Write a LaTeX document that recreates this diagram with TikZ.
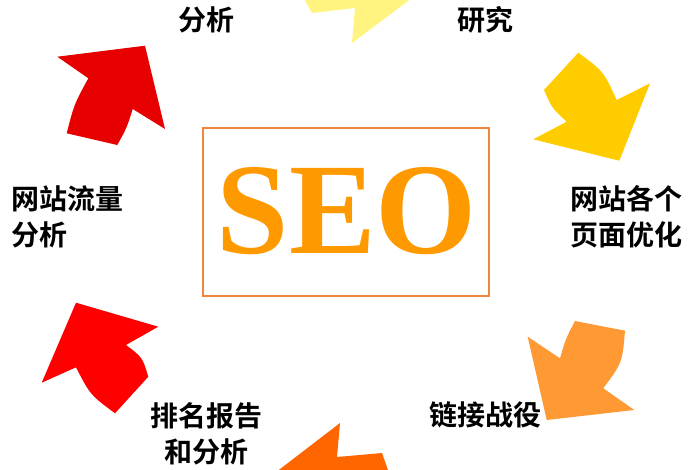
\documentclass[tikz,border=0pt]{standalone}
\usepackage{fontspec}
\setmainfont{Liberation Serif}
\newfontfamily\cjk{Noto Sans CJK SC}[BoldFont=* Bold]
\definecolor{redA}{RGB}{230,0,0}
\definecolor{redB}{RGB}{255,0,0}
\definecolor{yelA}{RGB}{255,244,128}
\definecolor{yelB}{RGB}{255,204,0}
\definecolor{oraA}{RGB}{255,153,51}
\definecolor{oraB}{RGB}{255,102,0}
\definecolor{seo}{RGB}{255,153,0}
\definecolor{boxc}{RGB}{240,135,60}
\tikzset{
  lbl/.style={font=\cjk\bfseries\fontsize{28}{36}\selectfont, text=black, inner sep=0pt},
  arr/.style={draw=none}
}
\begin{document}
\begin{tikzpicture}[x=1pt,y=-1pt]
\useasboundingbox (0,0) rectangle (700,470);
\clip (0,0) rectangle (700,470);
\fill[white] (0,0) rectangle (700,470);
% top-left red arrow
\fill[redA] (66.7,133.3) .. controls (74.1,104.4) .. (88.3,78.3) -- (57.3,56.7) -- (145,45.7) -- (165,129) -- (132.7,109) .. controls (126.8,127.8) .. (117.3,145) -- cycle;
% top light yellow arrow (cropped)
\fill[yelA] (300,-8) -- (312,13) -- (355,8) -- (352,43) -- (420,-8) -- cycle;
% top-right yellow arrow
\fill[yelB] (578.3,52.7) -- (544,90) .. controls (552,108.2) .. (566.7,121.7) -- (533.3,139.3) -- (619.3,160.7) -- (650,83.3) -- (616.7,100) .. controls (603.6,71.4) .. cycle;
% bottom-right orange arrow
\fill[oraA] (575,321) .. controls (565.6,339) .. (560,358.3) -- (527.7,336.7) -- (546.7,420) -- (634.3,410) -- (603.3,388.3) .. controls (622.3,362.6) .. (625,330.7) -- cycle;
% bottom orange arrow (cropped)
\fill[oraB] (271,476) -- (340,423) -- (337,457) -- (382,453) -- (390,476) -- cycle;
% bottom-left red arrow
\fill[redB] (76,302.7) -- (158.3,326.7) -- (126,345) .. controls (142.4,357.3) .. (148.3,376.7) -- (115,413.3) .. controls (90.2,394.8) .. (76,367.3) -- (41.7,382.7) -- cycle;
% central box
\node[draw=boxc, line width=1.5pt, minimum width=286pt, minimum height=168pt, inner sep=0pt] (box) at (346,212) {};
\node[text=seo, font=\bfseries\fontsize{130}{130}\selectfont, inner sep=0pt, anchor=base] (seo) at (347,253) {SEO};
% labels
\node[lbl] (l1) at (206,20) {分析};
\node[lbl] (l2) at (485,20) {研究};
\node[lbl, align=center] (l3) at (626,217) {网站各个\\页面优化};
\node[lbl, align=left, anchor=west] (l4) at (11,217) {网站流量\\分析};
\node[lbl, align=center] (l5) at (206,434) {排名报告\\和分析};
\node[lbl] (l6) at (485,415) {链接战役};
\end{tikzpicture}
\end{document}
